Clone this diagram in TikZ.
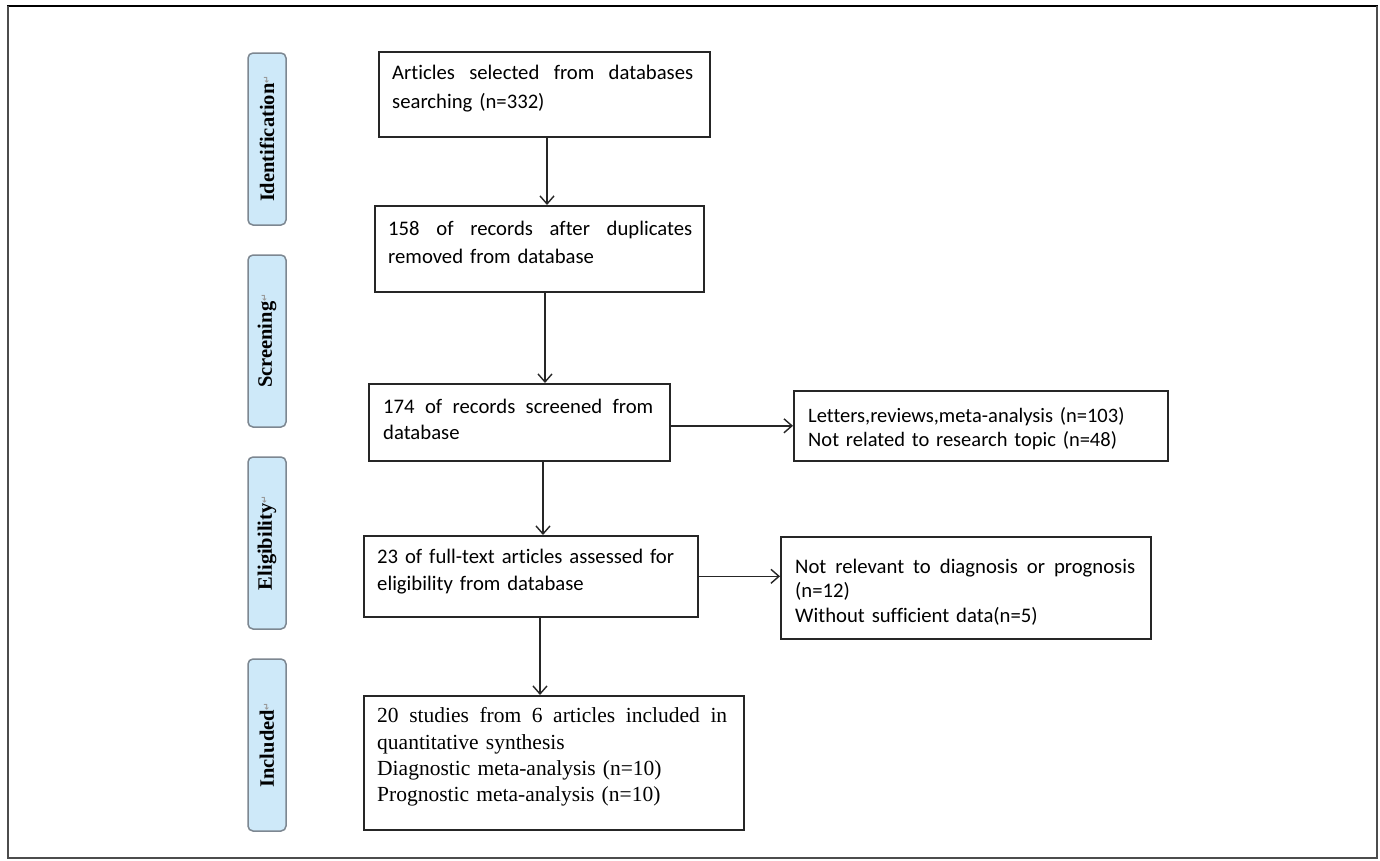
\documentclass[tikz,border=0pt]{standalone}
\usepackage{fontspec}
\setmainfont[Ligatures={NoCommon}]{Carlito}
\newfontfamily\timesf{Liberation Serif}
\newfontfamily\symf{DejaVu Sans}
\usetikzlibrary{arrows.meta,calc}
\definecolor{sidefill}{RGB}{206,233,249}
\definecolor{sidegray}{RGB}{125,135,145}
\newcommand{\jl}[1]{\hbox to \hsize{\spaceskip=0.2em plus 1fil\relax #1}}
\newcommand{\pmark}{{\symf\fontsize{9}{9}\selectfont\color{black!40}\raisebox{0.9ex}{↵}}}
\begin{document}
\begin{tikzpicture}[x=1pt,y=-1pt,
  box/.style={draw=black!85, line width=1.6pt, inner sep=0pt, anchor=north west},
  txt/.style={anchor=base west, inner sep=0pt, align=left, font=\fontsize{20.7}{27}\selectfont},
  side/.style={draw=sidegray, fill=sidefill, line width=1.5pt, rounded corners=5pt,
    minimum width=172pt, minimum height=38pt, inner sep=0pt, rotate=90,
    font=\timesf\bfseries\fontsize{20.5}{20.5}\selectfont},
  arr/.style={line width=1.4pt, draw=black!85, -{Straight Barb[length=8pt,width=14pt,line width=1.4pt]}}
]
\useasboundingbox (0,0) rectangle (1380,860);
\fill[white] (0,0) rectangle (1380,860);
% outer frame
\draw[line width=1.2pt, black] (8,6) rectangle (1377,858);
\draw[line width=2.5pt, black!70] (8,6) -- (8,858) -- (1377,858) -- (1377,6);

% side labels
\node[side] (s1) at (267,139) {Identification\pmark};
\node[side] (s2) at (267,341) {Screening\pmark};
\node[side] (s3) at (267,543) {Eligibility\pmark};
\node[side] (s4) at (267,745) {Included\pmark};

% boxes
\node[box, minimum width=331pt, minimum height=85pt] (b1) at (378,51) {};
\node[box, minimum width=329pt, minimum height=86pt] (b2) at (374,205) {};
\node[box, minimum width=301pt, minimum height=77pt] (b3) at (368,383) {};
\node[box, minimum width=334pt, minimum height=81pt] (b4) at (363,535) {};
\node[box, minimum width=380pt, minimum height=134pt] (b5) at (363,695) {};
\node[box, minimum width=374pt, minimum height=70pt] (bA) at (793,390) {};
\node[box, minimum width=370pt, minimum height=102pt] (bB) at (780,536) {};

% texts
\node[txt, text width=301pt, font=\fontsize{20.7}{29}\selectfont] (t1) at (392,79)
  {\jl{Articles selected from databases}\\searching (n=332)};
\node[txt, text width=304pt, font=\fontsize{20.7}{27.5}\selectfont] (t2) at (388,235.5)
  {\jl{158 of records after duplicates}\\removed from database};
\node[txt, text width=270pt, font=\fontsize{20.7}{26}\selectfont] (t3) at (383,413)
  {\jl{174 of records screened from}\\database};
\node[txt, text width=310pt, font=\fontsize{20.7}{27}\selectfont] (t4) at (377,563)
  {23 of full-text articles assessed for\\eligibility from database};
\node[txt, text width=350pt, font=\timesf\fontsize{21.5}{26.3}\selectfont] (t5) at (377,722.7)
  {\jl{20 studies from 6 articles included in}\\quantitative synthesis\\Diagnostic meta-analysis (n=10)\\Prognostic meta-analysis (n=10)};
\node[txt, text width=340pt, font=\fontsize{20.5}{24}\selectfont] (tA) at (808,422.7)
  {Letters,reviews,meta-analysis (n=103)\\Not related to research topic (n=48)};
\node[txt, text width=340pt, font=\fontsize{20.7}{24.5}\selectfont] (tB) at (795,573)
  {\jl{Not relevant to diagnosis or prognosis}\\(n=12)\\Without sufficient data(n=5)};

% connectors
\coordinate (x1) at (547,0);
\coordinate (x2) at (545,0);
\coordinate (x3) at (543,0);
\coordinate (x4) at (540,0);
\draw[arr] (b1.south -| x1) -- (b2.north -| x1);
\draw[arr] (b2.south -| x2) -- (b3.north -| x2);
\draw[arr] (b3.south -| x3) -- (b4.north -| x3);
\draw[arr] (b4.south -| x4) -- (b5.north -| x4);
\draw[arr] (b3.east |- bA.west) -- (bA.west);
\draw[arr] (b4.east) -- (bB.west |- b4.east);
\end{tikzpicture}
\end{document}
